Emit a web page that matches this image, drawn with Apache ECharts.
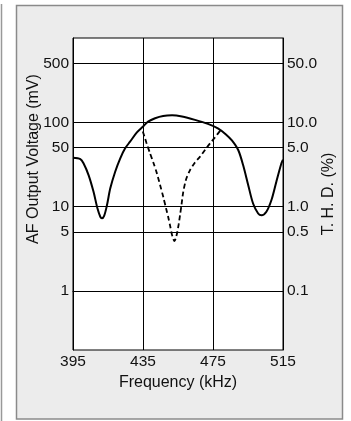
<!DOCTYPE html>
<html>
<head>
<meta charset="utf-8">
<script src="https://cdn.jsdelivr.net/npm/echarts@6/dist/echarts.min.js"></script>
<style>
  html, body { margin: 0; padding: 0; background: #fff; }
  #chart { width: 351px; height: 421px; }
</style>
</head>
<body>
<div id="chart"></div>
<script>
// AF output (mV), solid curve
var afFreq = [395, 399.2, 401, 403.9, 406.7, 409, 410.6, 411.5, 412.8, 414.4,
  416.3, 419.1, 422, 424.8, 427.6, 431.5, 435.2, 437.9, 441.9, 446.5,
  451.6, 457.3, 464.7, 472.1, 477.8, 482.4, 485.8, 489.4, 492.2, 495.1,
  497.9, 500.8, 502.7, 505.5, 508.4, 511.2, 514.1, 515]
var afMv = [38, 36.7, 32.7, 23.7, 15.1, 9.5, 7.6, 7.3, 7.8, 10.4,
  16.5, 26, 37.5, 49.2, 59, 76, 90, 102, 112, 119,
  121, 117, 107, 96, 85, 72, 61, 47, 31.2, 18.1,
  10.9, 8.3, 7.9, 8.7, 12, 19.8, 32.7, 36]

// T.H.D. (%), dashed curve
var thdFreq = [434.9, 437, 439, 441, 442.9, 444.8, 446.6, 448.2, 449.5, 450.6, 451.5, 452.4, 453, 453.7,
  454.6, 455.4, 456.1, 457, 458, 459.6, 461.8, 464.5, 467.5, 470.4, 473.2, 476, 479.2]
var thdPct = [7.8, 5.7, 4.3, 3.3, 2.5, 1.8, 1.3, 0.95, 0.74, 0.58, 0.47, 0.41, 0.39, 0.42,
  0.5, 0.62, 0.78, 1.05, 1.5, 2.1, 2.7, 3.3, 3.9, 4.7, 5.6, 6.6, 8.0]

// tick labels
var freqTicks = [395, 435, 475, 515]
var mvTicks = [500, 100, 50, 10, 5, 1]
var thdTicks = [50, 10, 5, 1, 0.5, 0.1]

var F0 = 395
var log = function (v) { return Math.log10(v) }

var chart = echarts.init(document.getElementById('chart'))
var font = 'Liberation Sans, Arial, sans-serif'
var txt = '#111'

var option = {
  backgroundColor: '#fff',
  animation: false,
  textStyle: { fontFamily: font },
  graphic: [
    {
      type: 'line', z: -100, silent: true,
      shape: { x1: 1.5, y1: 4, x2: 1.5, y2: 421 },
      style: { stroke: '#999', lineWidth: 1.5 }
    },
    {
      type: 'rect', z: -100, silent: true,
      shape: { x: 16.5, y: 5.5, width: 326, height: 413.5 },
      style: { fill: '#ececec', stroke: '#8a8a8a', lineWidth: 1.5 }
    }
  ],
  grid: {
    left: 73, right: 68, top: 38, bottom: 71,
    show: true, backgroundColor: '#fff', borderColor: '#000', borderWidth: 1
  },
  xAxis: {
    type: 'value',
    min: 0, max: freqTicks[3] - F0, interval: freqTicks[1] - freqTicks[0],
    name: 'Frequency (kHz)',
    nameLocation: 'middle',
    nameGap: 24,
    nameTextStyle: { fontSize: 16, color: txt, fontFamily: font },
    axisLine: { show: true, lineStyle: { color: '#000', width: 1 } },
    axisTick: { show: false },
    axisLabel: {
      fontSize: 15.5, color: txt, margin: 4, fontFamily: font,
      formatter: function (v) { return String(v + F0) }
    },
    splitLine: { show: true, lineStyle: { color: '#000', width: 1 } }
  },
  yAxis: [
    {
      type: 'value',
      min: log(0.2), max: 3,
      name: 'AF Output Voltage (mV)',
      nameLocation: 'middle',
      nameGap: 31,
      nameMoveOverlap: false,
      nameTextStyle: { fontSize: 16, color: txt, fontFamily: font, padding: [0, 0, 0, 70] },
      axisLine: { show: true, lineStyle: { color: '#000' } },
      axisTick: { show: false, customValues: mvTicks.map(log) },
      axisLabel: {
        fontSize: 15.5, color: txt, margin: 4, fontFamily: font,
        customValues: mvTicks.map(log),
        formatter: function (v) { return String(Math.round(Math.pow(10, v))) }
      },
      splitLine: { show: false }
    },
    {
      type: 'value',
      min: log(0.02), max: 2,
      position: 'right',
      name: 'T. H. D. (%)',
      nameLocation: 'middle',
      nameGap: 38,
      nameMoveOverlap: false,
      nameTextStyle: { fontSize: 16, color: txt, fontFamily: font },
      axisLine: { show: true, lineStyle: { color: '#000' } },
      axisTick: { show: false, customValues: thdTicks.map(log) },
      axisLabel: {
        fontSize: 15.5, color: txt, margin: 4, fontFamily: font,
        customValues: thdTicks.map(log),
        formatter: function (v) { return Number(Math.pow(10, v).toFixed(2)).toFixed(1) }
      },
      splitLine: { show: false }
    }
  ],
  series: [
    {
      name: 'AF Output',
      type: 'line',
      yAxisIndex: 0,
      data: afFreq.map(function (f, i) { return [f - F0, log(afMv[i])] }),
      showSymbol: false,
      smooth: 0.3,
      lineStyle: { color: '#000', width: 2 },
      z: 5,
      markLine: {
        silent: true,
        symbol: 'none',
        label: { show: false },
        lineStyle: { color: '#000', width: 1, type: 'solid' },
        data: mvTicks.map(function (v) { return { yAxis: log(v) } }),
        z: 1
      }
    },
    {
      name: 'THD',
      type: 'line',
      yAxisIndex: 1,
      data: thdFreq.map(function (f, i) { return [f - F0, log(thdPct[i])] }),
      showSymbol: false,
      smooth: 0.25,
      lineStyle: { color: '#000', width: 1.8, type: [5, 3] },
      z: 5
    }
  ]
}
chart.setOption(option)
</script>
</body>
</html>
